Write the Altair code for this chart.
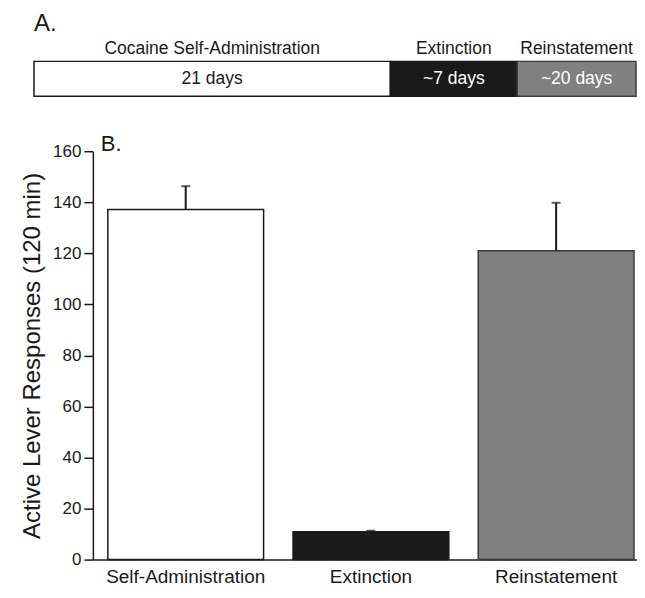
import altair as alt
import pandas as pd

# ---- Panel A: schematic timeline ----
phase_names = ["Cocaine Self-Administration", "Extinction", "Reinstatement"]
phase_days = ["21 days", "~7 days", "~20 days"]
phase_span = [21.0, 7.47, 7.0]  # schematic relative widths as drawn
phase_fill = ["#ffffff", "#1a1a1a", "#808080"]
phase_stroke = ["#1a1a1a", "#1a1a1a", "#3a3a3a"]
phase_text_color = ["#1a1a1a", "#ffffff", "#ffffff"]
timeline_domain = [3.47, 35.53]  # timeline starts left of the bar chart's axis

# ---- Panel B: bar chart ----
categories = ["Self-Administration", "Extinction", "Reinstatement"]
means = [137.2, 10.9, 121.0]
sems = [9.1, 0.4, 18.8]
bar_fill = ["#ffffff", "#1a1a1a", "#808080"]
bar_stroke = ["#1a1a1a", "#1a1a1a", "#3a3a3a"]
y_ticks = [0, 20, 40, 60, 80, 100, 120, 140, 160]

FONT = "Liberation Sans"
INK = "#1a1a1a"

starts, ends, mids = [], [], []
acc = 0.0
for s in phase_span:
    starts.append(acc)
    ends.append(acc + s)
    mids.append(acc + s / 2)
    acc += s
dfa = pd.DataFrame({
    "phase": phase_names, "days": phase_days, "start": starts, "end": ends,
    "mid": mids, "fill": phase_fill, "stroke": phase_stroke,
    "tcolor": phase_text_color, "row": ["r"] * 3,
})

xa_scale = alt.Scale(domain=timeline_domain, nice=False, zero=False)
ya = alt.Y("row:N", axis=None, scale=alt.Scale(paddingInner=0, paddingOuter=0))

rect_a = alt.Chart(dfa).mark_rect(strokeWidth=1.5).encode(
    x=alt.X("start:Q", scale=xa_scale, axis=None), x2="end:Q", y=ya,
    fill=alt.Fill("fill:N", scale=None),
    stroke=alt.Stroke("stroke:N", scale=None),
)
days_text = alt.Chart(dfa).mark_text(font=FONT, fontSize=17.5, baseline="middle").encode(
    x=alt.X("mid:Q", scale=xa_scale, axis=None), y=ya, text="days:N",
    color=alt.Color("tcolor:N", scale=None),
)
phase_text = alt.Chart(dfa).mark_text(font=FONT, fontSize=17.5, baseline="alphabetic",
                                      dy=-25, color=INK).encode(
    x=alt.X("mid:Q", scale=xa_scale, axis=None), y=ya, text="phase:N",
)
panel_a = alt.layer(rect_a, days_text, phase_text).properties(
    width=545, height=35,
    title=alt.Title("A.", anchor="start", frame="group", fontSize=24, font=FONT,
                    fontWeight="normal", color=INK, offset=4, dx=-59),
)

# ---- Panel B ----
dfb = pd.DataFrame({
    "cat": categories, "mean": means, "top": [m + s for m, s in zip(means, sems)],
    "fill": bar_fill, "stroke": bar_stroke,
})
xb = alt.X("cat:N", sort=categories, title=None,
           scale=alt.Scale(paddingInner=0.159, paddingOuter=0.0485, align=0.833),
           axis=alt.Axis(labelAngle=0, ticks=False, tickSize=0, labelPadding=8,
                         labelFontSize=19, labelFont=FONT, labelColor=INK,
                         domainColor=INK, domainWidth=1.5))
yb = alt.Y("mean:Q", title="Active Lever Responses (120 min)",
           scale=alt.Scale(domain=[0, 160], nice=False),
           axis=alt.Axis(values=y_ticks, tickSize=9, tickWidth=1.5, tickColor=INK,
                         labelPadding=3, labelFontSize=17, labelFont=FONT,
                         labelColor=INK, domainColor=INK, domainWidth=1.5,
                         titleFontSize=24, titleFont=FONT, titleFontWeight="normal",
                         titleColor=INK, titlePadding=8, grid=False))

bars = alt.Chart(dfb).mark_bar(strokeWidth=1.5).encode(
    x=xb, y=yb,
    fill=alt.Fill("fill:N", scale=None),
    stroke=alt.Stroke("stroke:N", scale=None),
)
err = alt.Chart(dfb).mark_rule(color=INK, strokeWidth=2).encode(
    x=xb, y="mean:Q", y2="top:Q",
)
caps = alt.Chart(dfb).mark_tick(color=INK, thickness=2, size=9).encode(
    x=xb, y="top:Q",
)
panel_b = alt.layer(bars, err, caps).properties(
    width=545, height=409,
    title=alt.Title("B.", anchor="start", frame="group", fontSize=22, font=FONT,
                    fontWeight="normal", color=INK, dx=8, offset=-14),
)

chart = alt.vconcat(panel_a, panel_b, spacing=36).properties(
    padding={"left": 12, "top": 3, "right": 0, "bottom": 0},
).configure_view(stroke=None)

chart.save("out.html", embed_options={"renderer": "svg", "actions": False})
